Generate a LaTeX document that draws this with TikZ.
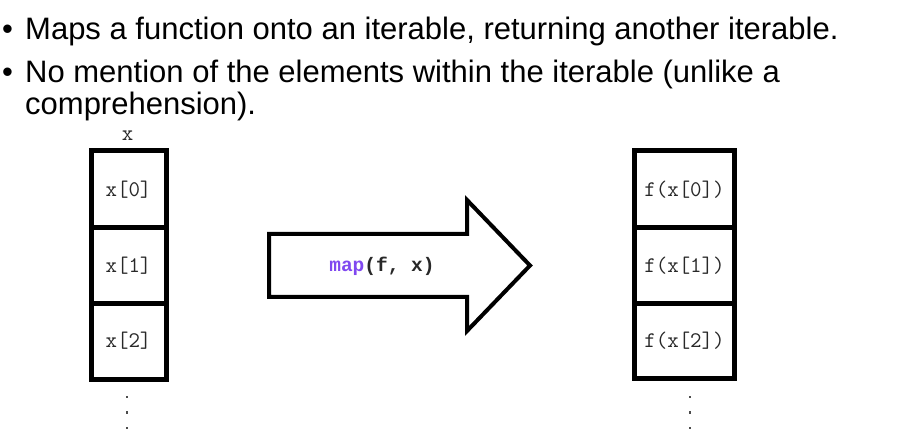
\documentclass[tikz,border=0pt]{standalone}
\usepackage{fontspec}
\setmainfont{Liberation Sans}
\newfontfamily\codefont{Liberation Mono}
\definecolor{mappurple}{RGB}{128,72,240}
\definecolor{codegray}{RGB}{40,40,40}
\tikzset{
  bullettext/.style={anchor=base west, inner sep=0pt, font=\fontsize{31}{34}\selectfont},
  cell/.style={draw=black, line width=5pt},
  celltext/.style={inner sep=0pt, text=codegray, font=\ttfamily\fontsize{22.3}{23}\selectfont},
  bigarrow/.style={draw=black, line width=4pt, fill=white, line join=miter},
  dotmark/.style={fill=black!70, inner sep=0pt, minimum size=2.2pt, rectangle}
}
\begin{document}
\begin{tikzpicture}[x=1pt,y=-1pt]
\useasboundingbox (0,0) rectangle (906,446);
% bullet text
\node[bullettext] (b1) at (2,40) {•};
\node[bullettext] (t1) at (25,40) {Maps a function onto an iterable, returning another iterable.};
\node[bullettext] (b2) at (2,83) {•};
\node[bullettext] (t2) at (25,83) {No mention of the elements within the iterable (unlike a};
\node[bullettext] (t3) at (25,115) {comprehension).};
% left stack
\node[celltext] (xlab) at (127.5,136) {x};
\draw[cell] (91,151) rectangle (166,379.5);
\draw[cell] (91,228) -- (166,228);
\draw[cell] (91,303.5) -- (166,303.5);
\node[celltext] (x0) at (128.5,190) {x[0]};
\node[celltext] (x1) at (128.5,266) {x[1]};
\node[celltext] (x2) at (128.5,341) {x[2]};
\node[dotmark] (ld1) at (127,397) {};
\node[dotmark] (ld2) at (127,412.5) {};
\node[dotmark] (ld3) at (127,428) {};
% right stack
\draw[cell] (634.5,151) rectangle (734.5,378.5);
\draw[cell] (634.5,228) -- (734.5,228);
\draw[cell] (634.5,303.5) -- (734.5,303.5);
\node[celltext] (y0) at (684.5,190) {f(x[0])};
\node[celltext] (y1) at (684.5,266) {f(x[1])};
\node[celltext] (y2) at (684.5,341) {f(x[2])};
\node[dotmark] (rd1) at (690,397) {};
\node[dotmark] (rd2) at (690,412.5) {};
\node[dotmark] (rd3) at (690,428) {};
% big arrow
\draw[bigarrow] (269,234) -- (467,234) -- (467,200) -- (530,265.5) -- (467,331) -- (467,297) -- (269,297) -- cycle;
\node[inner sep=0pt, font=\codefont\bfseries\fontsize{19.5}{20}\selectfont] (mapcall) at (382,266) {\textcolor{mappurple}{map}\textcolor{codegray}{(f, x)}};
\end{tikzpicture}
\end{document}
